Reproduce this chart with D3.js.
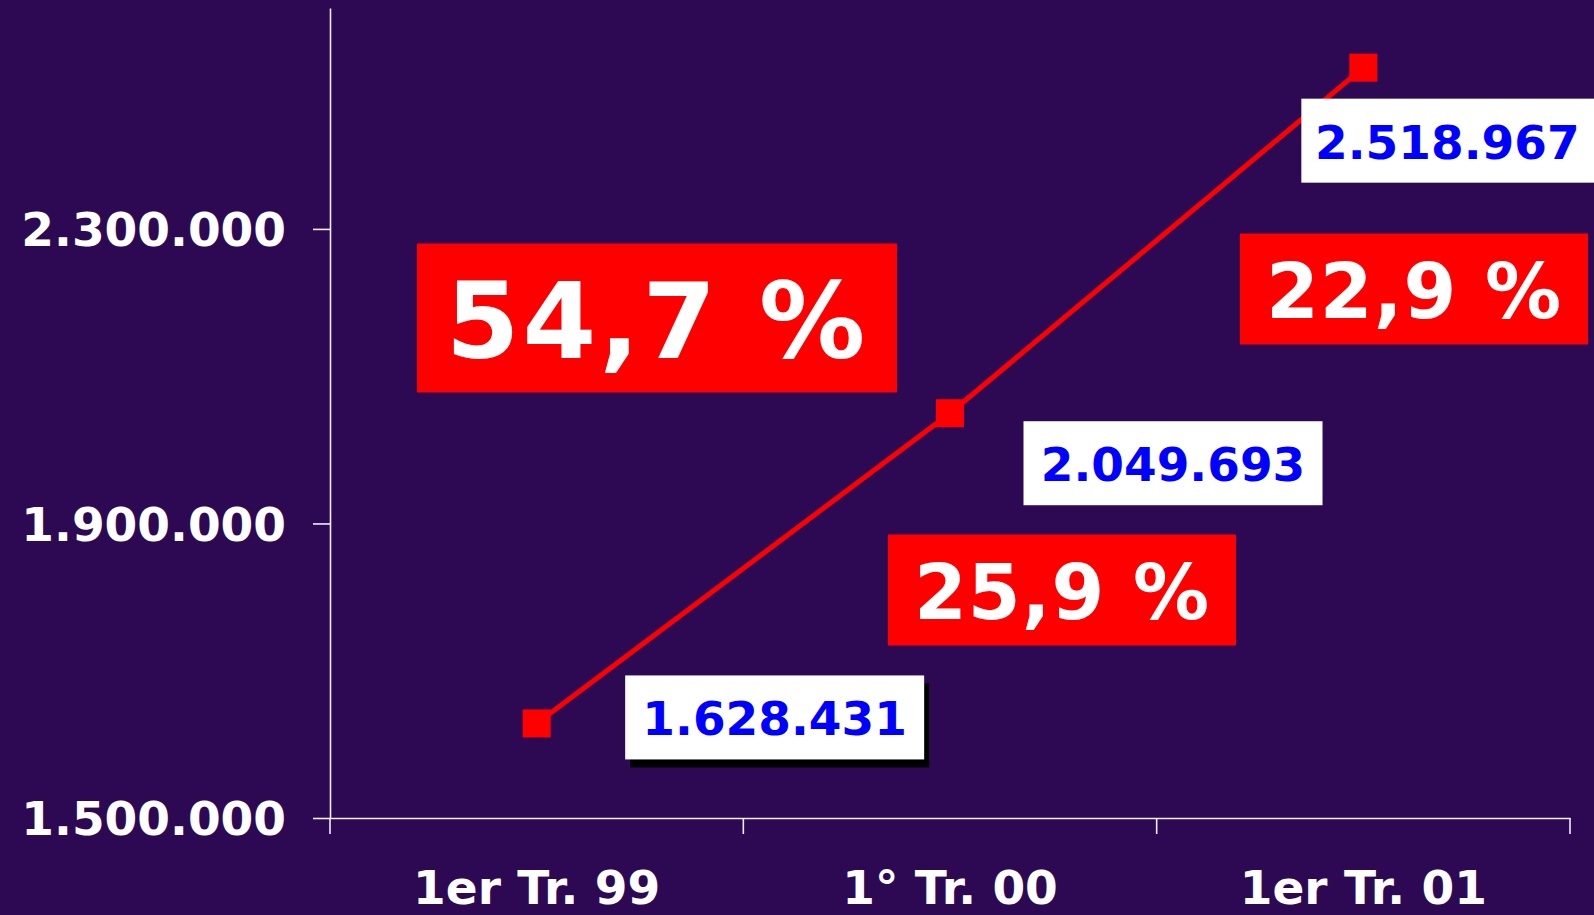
<!DOCTYPE html>
<html>
<head>
<meta charset="utf-8">
<script src="https://cdn.jsdelivr.net/npm/d3@7"></script>
<style>
  html, body { margin: 0; padding: 0; background: #2c0952; overflow: hidden; }
  svg { display: block; }
  text { font-family: "DejaVu Sans", Verdana, sans-serif; font-weight: bold; }
</style>
</head>
<body>
<svg id="chart"></svg>
<script>
const CATEGORIES = ["1er Tr. 99", "1° Tr. 00", "1er Tr. 01"];
const VALUES = [1628431, 2049693, 2518967];
const Y_TICKS = [1500000, 1900000, 2300000];
const Y_DOMAIN = [1500000, 2600000];
// growth labels: 99 -> 01, 99 -> 00, 00 -> 01
const GROWTH = [54.7, 25.9, 22.9];

const width = 1594;
const height = 915;
const margin = { top: 8, right: 24, bottom: 97, left: 330 };

const locale = d3.formatLocale({ decimal: ",", thousands: ".", grouping: [3], currency: ["", ""] });
const formatValue = locale.format(",d");
const formatGrowth = (value) => `${locale.format(".1f")(value)} %`;

const svg = d3.select("#chart")
  .attr("width", width)
  .attr("height", height);

svg.append("rect")
  .attr("width", width)
  .attr("height", height)
  .attr("fill", "#2c0952");

const x = d3.scaleBand()
  .domain(CATEGORIES)
  .range([margin.left, width - margin.right]);

const y = d3.scaleLinear()
  .domain(Y_DOMAIN)
  .range([height - margin.bottom, margin.top]);

const axisColor = "#f2eef8";

// y axis
const yAxis = svg.append("g")
  .attr("transform", `translate(${margin.left},0)`)
  .call(d3.axisLeft(y).tickValues(Y_TICKS).tickFormat(formatValue).tickSize(17).tickSizeOuter(0).tickPadding(27));

yAxis.select(".domain").attr("stroke", axisColor).attr("stroke-width", 1.6);
yAxis.selectAll(".tick line").attr("stroke", axisColor).attr("stroke-width", 1.6);
yAxis.selectAll(".tick text")
  .attr("fill", "#ffffff")
  .attr("font-size", 47)
  .attr("dy", "0.36em")
  .attr("font-family", "DejaVu Sans");

// x axis
const xAxis = svg.append("g")
  .attr("transform", `translate(0,${y.range()[0]})`)
  .call(d3.axisBottom(x).tickSize(0).tickSizeOuter(0).tickPadding(53));

xAxis.select(".domain").attr("stroke", axisColor).attr("stroke-width", 1.6);
xAxis.selectAll(".tick text")
  .attr("fill", "#ffffff")
  .attr("font-size", 47)
  .attr("font-family", "DejaVu Sans");

const boundaries = [...CATEGORIES.map((category) => x(category)), x.range()[1]];
xAxis.selectAll(".boundary")
  .data(boundaries)
  .join("line")
  .attr("class", "boundary")
  .attr("x1", (item) => item)
  .attr("x2", (item) => item)
  .attr("y1", 0)
  .attr("y2", 16)
  .attr("stroke", axisColor)
  .attr("stroke-width", 1.6);

// series
const points = CATEGORIES.map((category, index) => ({
  x: x(category) + x.bandwidth() / 2,
  y: y(VALUES[index]),
  value: VALUES[index]
}));

svg.append("path")
  .datum(points)
  .attr("fill", "none")
  .attr("stroke", "#ff0000")
  .attr("stroke-width", 5)
  .attr("d", d3.line().x((item) => item.x).y((item) => item.y));

const markerSize = 28;
svg.append("g")
  .selectAll("rect")
  .data(points)
  .join("rect")
  .attr("x", (item) => item.x - markerSize / 2)
  .attr("y", (item) => item.y - markerSize / 2)
  .attr("width", markerSize)
  .attr("height", markerSize)
  .attr("fill", "#ff0000");

// value labels, placed relative to their point
const valueOffsets = [
  { dx: 238, dy: -6, shadow: true },
  { dx: 223, dy: 50, shadow: false },
  { dx: 84, dy: 73, shadow: false }
];
const valueBox = { width: 299, height: 84 };

const valueLabel = svg.append("g")
  .selectAll("g")
  .data(points)
  .join("g")
  .attr("transform", (item, index) => `translate(${item.x + valueOffsets[index].dx},${item.y + valueOffsets[index].dy})`);

valueLabel.filter((item, index) => valueOffsets[index].shadow)
  .append("rect")
  .attr("x", -valueBox.width / 2 + 5)
  .attr("y", -valueBox.height / 2 + 8)
  .attr("width", valueBox.width)
  .attr("height", valueBox.height)
  .attr("fill", "#000000");

valueLabel.append("rect")
  .attr("x", (item, index) => index === 2 ? -146 : -valueBox.width / 2)
  .attr("y", -valueBox.height / 2)
  .attr("width", (item, index) => index === 2 ? 320 : valueBox.width)
  .attr("height", valueBox.height)
  .attr("fill", "#ffffff");

valueLabel.append("text")
  .attr("text-anchor", "middle")
  .attr("y", 18)
  .attr("fill", "#0000ff")
  .attr("font-size", 47)
  .text((item) => formatValue(item.value));

// growth labels
const growthBoxes = [
  { cx: 657, cy: 318, width: 480, height: 149, size: 106 },
  { cx: 1062, cy: 590, width: 348, height: 111, size: 76 },
  { cx: 1414, cy: 289, width: 348, height: 111, size: 76 }
];

const growthLabel = svg.append("g")
  .selectAll("g")
  .data(GROWTH)
  .join("g")
  .attr("transform", (item, index) => `translate(${growthBoxes[index].cx},${growthBoxes[index].cy})`);

growthLabel.append("rect")
  .attr("x", (item, index) => -growthBoxes[index].width / 2)
  .attr("y", (item, index) => -growthBoxes[index].height / 2)
  .attr("width", (item, index) => growthBoxes[index].width)
  .attr("height", (item, index) => growthBoxes[index].height)
  .attr("fill", "#ff0000");

growthLabel.append("text")
  .attr("text-anchor", "middle")
  .attr("y", (item, index) => growthBoxes[index].size * 0.38)
  .attr("fill", "#ffffff")
  .attr("font-size", (item, index) => growthBoxes[index].size)
  .attr("letter-spacing", (item, index) => index === 0 ? 3 : 1)
  .text((item) => formatGrowth(item));
</script>
</body>
</html>
